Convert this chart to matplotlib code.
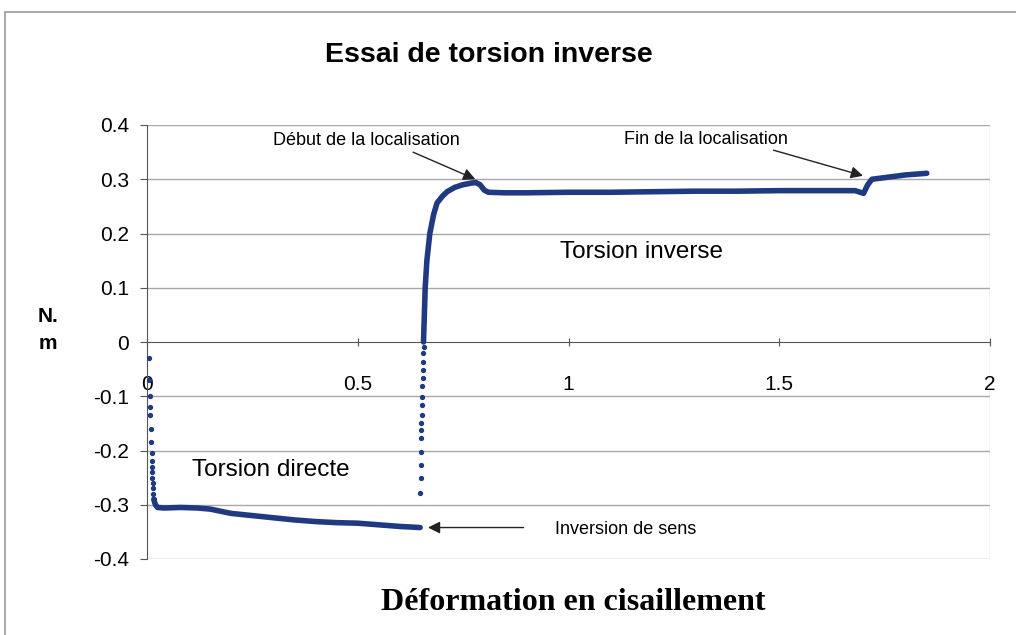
import matplotlib
matplotlib.use("Agg")
import matplotlib.pyplot as plt
from matplotlib.patches import Rectangle

plt.rcParams["font.family"] = ["Liberation Sans", "DejaVu Sans"]

# ---- data ----
# torsion directe: sparse drop then dense plateau
drop1_x = [0.004, 0.005, 0.006, 0.007, 0.008, 0.009, 0.010, 0.011, 0.012, 0.012,
           0.013, 0.013, 0.014, 0.014, 0.015, 0.016]
drop1_y = [-0.03, -0.07, -0.10, -0.12, -0.135, -0.16, -0.185, -0.205, -0.22, -0.23,
           -0.24, -0.25, -0.26, -0.27, -0.28, -0.29]
direct_x = [0.016, 0.020, 0.025, 0.04, 0.08, 0.12, 0.15, 0.20, 0.25, 0.30,
            0.35, 0.40, 0.45, 0.50, 0.55, 0.60, 0.648]
direct_y = [-0.29, -0.300, -0.305, -0.306, -0.305, -0.306, -0.308, -0.316, -0.320, -0.324,
            -0.328, -0.331, -0.333, -0.334, -0.337, -0.340, -0.342]

# reversal: sparse rise then dense curve
drop2_x = [0.648, 0.649, 0.649, 0.650, 0.650, 0.651, 0.651, 0.652, 0.652, 0.653,
           0.653, 0.654, 0.654, 0.655, 0.655, 0.656]
drop2_y = [-0.279, -0.251, -0.227, -0.202, -0.177, -0.162, -0.150, -0.134, -0.116, -0.101,
           -0.082, -0.067, -0.052, -0.036, -0.021, -0.009]
inverse_x = [0.656, 0.658, 0.660, 0.664, 0.671, 0.680, 0.688, 0.700, 0.712, 0.730,
             0.750, 0.770, 0.780, 0.790, 0.800, 0.810, 0.850, 0.900, 1.00, 1.10,
             1.20, 1.30, 1.40, 1.50, 1.60, 1.68, 1.70, 1.71, 1.72, 1.75, 1.80, 1.85]
inverse_y = [0.000, 0.050, 0.100, 0.150, 0.200, 0.235, 0.256, 0.268, 0.277, 0.285,
             0.290, 0.293, 0.294, 0.290, 0.280, 0.276, 0.275, 0.275, 0.276, 0.276,
             0.277, 0.278, 0.278, 0.279, 0.279, 0.279, 0.274, 0.290, 0.300, 0.303, 0.308, 0.311]

x_ticks = [0, 0.5, 1, 1.5, 2]
x_labels = ["0", "0.5", "1", "1.5", "2"]
y_ticks = [-0.4, -0.3, -0.2, -0.1, 0, 0.1, 0.2, 0.3, 0.4]
y_labels = ["-0.4", "-0.3", "-0.2", "-0.1", "0", "0.1", "0.2", "0.3", "0.4"]

navy = "#1f3a80"

fig = plt.figure(figsize=(10.16, 6.35), dpi=100)
# outer chart border
fig.patches.append(Rectangle((5 / 1016, -0.01), 1.1, 1 - 12 / 635 + 0.01, transform=fig.transFigure,
                             fill=False, edgecolor="#9a9a9a", linewidth=1.2))

ax = fig.add_axes([147 / 1016, 1 - 559 / 635, (990 - 147) / 1016, (559 - 125) / 635])
ax.set_xlim(0, 2)
ax.set_ylim(-0.4, 0.4)

# grid lines
for yv in y_ticks:
    if yv != 0:
        ax.axhline(yv, color="#a8a8a8", lw=1.0, zorder=1)
ax.axvline(2, color="#cccccc", lw=1.0, zorder=1)

ax.spines["top"].set_visible(False)
ax.spines["right"].set_visible(False)
ax.spines["left"].set_color("#555555")
ax.spines["bottom"].set_color("#555555")
ax.spines["bottom"].set_position(("data", 0))

ax.set_xticks(x_ticks)
ax.set_xticklabels(x_labels)
ax.set_yticks(y_ticks)
ax.set_yticklabels(y_labels)
ax.tick_params(axis="y", direction="out", length=5, color="#555555", labelsize=15, pad=8)
ax.tick_params(axis="x", direction="inout", length=6, color="#555555", labelsize=15, pad=21)

# data
ax.plot(direct_x, direct_y, color=navy, lw=4, zorder=3, solid_capstyle="round")
ax.plot(inverse_x, inverse_y, color=navy, lw=4, zorder=3, solid_capstyle="round")
ax.plot(drop1_x, drop1_y, "o", color=navy, ms=2.8, zorder=3)
ax.plot(drop2_x, drop2_y, "o", color=navy, ms=2.8, zorder=3)

# annotations
arrow = dict(arrowstyle="-|>", color="#222222", lw=1.0, mutation_scale=18)
ax.text(0.52, 0.372, "Début de la localisation", ha="center", va="center", fontsize=13)
ax.annotate("", xy=(0.785, 0.298), xytext=(0.625, 0.352), arrowprops=arrow)
ax.text(1.326, 0.374, "Fin de la localisation", ha="center", va="center", fontsize=13)
ax.annotate("", xy=(1.705, 0.305), xytext=(1.48, 0.355), arrowprops=arrow)
ax.annotate("", xy=(0.66, -0.342), xytext=(0.9, -0.342), arrowprops=arrow)
ax.text(0.968, -0.346, "Inversion de sens", ha="left", va="center", fontsize=13)
ax.text(0.98, 0.166, "Torsion inverse", ha="left", va="center", fontsize=17.5)
ax.text(0.107, -0.236, "Torsion directe", ha="left", va="center", fontsize=17.5)

fig.text(489 / 1016, 1 - 55 / 635, "Essai de torsion inverse", ha="center", va="center",
         fontsize=20.5, fontweight="bold")
fig.text(48 / 1016, 1 - 330 / 635, "N.\nm", ha="center", va="center",
         fontsize=15, fontweight="bold", linespacing=1.5)
fig.text(573 / 1016, 1 - 603 / 635, "Déformation en cisaillement", ha="center", va="center",
         fontsize=23, fontweight="bold", family=["Liberation Serif", "DejaVu Serif"])

fig.savefig("out.png", dpi=100)
